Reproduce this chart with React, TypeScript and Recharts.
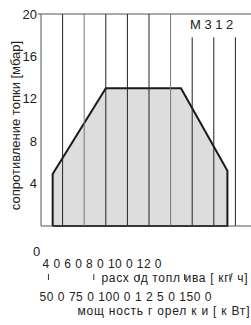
import { ComposedChart, Area, Scatter, XAxis, YAxis, ReferenceLine } from 'recharts';

// outline of the working field (x: position on the grid, y: resistance in mbar)
const fieldX = [0.54, 0.54, 3.0, 6.48, 8.63, 8.63, 0.54];
const fieldY = [0, 4.9, 13, 13, 5.2, 0, 0];

// vertical division lines and where they end at the top
const divisionX = [1, 2, 3, 4, 5, 6, 7, 8, 9];
const divisionTop = [20, 20, 20, 20, 20, 20, 17.8, 17.8, 17.8];

const yTicks = [4, 8, 12, 16, 20];
const powerTicks = [50, 75, 100, 125, 150];

const yTitle = 'сопротивление топки [мбар]';
const modelLabel = 'M 3 1 2';
const fuelZero = '0';
const fuelLabels = '4 0 6 0 8 0 10 0 12 0';
const fuelTitle = 'расх од топл ива [ кг/ ч]';
const powerLabels = '50 0 75 0 100 0 1 2 5 0 150 0';
const powerTitle = 'мощ ность г орел к и [ к Вт]';

const data = fieldX.map((x, i) => ({ x, y: fieldY[i] }));
const powerData = powerTicks.map((kw) => ({ kw, y: 0 }));

const FONT = '"Liberation Sans", Arial, sans-serif';
const TEXT = '#222';
const AXIS = '#555';

export default function App() {
  return (
    <div style={{ position: 'absolute', left: 0, top: 0, width: 251, height: 325, overflow: 'hidden', background: '#fff' }}>
      <ComposedChart width={257} height={325} data={data} margin={{ top: 14, right: 0, left: 0, bottom: 0 }}>
        <XAxis
          type="number"
          dataKey="x"
          domain={[0, 10]}
          tick={false}
          tickLine={false}
          axisLine={{ stroke: AXIS }}
          height={48}
        />
        <XAxis
          xAxisId="power"
          type="number"
          dataKey="kw"
          domain={[45.9, 164.9]}
          ticks={powerTicks}
          allowDataOverflow
          axisLine={false}
          tickLine={{ stroke: '#333' }}
          tickSize={6}
          tickFormatter={() => ''}
          height={51}
        />
        <YAxis
          type="number"
          domain={[0, 20]}
          ticks={yTicks}
          width={41}
          tickLine={false}
          tickSize={2}
          tickMargin={2}
          axisLine={{ stroke: AXIS }}
          tick={{ fill: TEXT, fontSize: 13, fontFamily: FONT }}
        />
        <Area
          type="linear"
          dataKey="y"
          stroke="#1a1a1a"
          strokeWidth={2}
          fill="#dddddd"
          fillOpacity={1}
          dot={false}
          activeDot={false}
          isAnimationActive={false}
        />
        {/* carries the power scale only, draws nothing */}
        <Scatter xAxisId="power" data={powerData} dataKey="y" shape={() => <g />} isAnimationActive={false} />
        <ReferenceLine
          ifOverflow="visible"
          segment={[{ x: -0.15, y: 20 }, { x: 10, y: 20 }]}
          stroke={AXIS}
        />
        {divisionX.map((x, i) => (
          <ReferenceLine
            key={x}
            segment={[{ x, y: 0 }, { x, y: divisionTop[i] }]}
            stroke={x % 4 === 2 ? '#777' : '#222'}
            strokeWidth={1}
          />
        ))}
      </ComposedChart>

      {/* titles and the odd bottom labels */}
      <svg width={251} height={325} style={{ position: 'absolute', left: 0, top: 0, pointerEvents: 'none' }}>
        <g fontFamily={FONT} fontSize={13} fill={TEXT}>
          <text x={19.5} y={125.5} textAnchor="middle" transform="rotate(-90 19.5 125.5)">{yTitle}</text>
          <text x={190} y={29}>{modelLabel}</text>
          <text x={33} y={256}>{fuelZero}</text>
        </g>
        <g fontFamily={FONT} fontSize={12} fill={TEXT}>
          <text x={42.5} y={268} textLength={119} lengthAdjust="spacing">{fuelLabels}</text>
          <text x={101.5} y={282} textLength={146} lengthAdjust="spacing">{fuelTitle}</text>
          <text x={39.5} y={300.5} textLength={172} lengthAdjust="spacing">{powerLabels}</text>
          <text x={77.5} y={314.5} textLength={172} lengthAdjust="spacing">{powerTitle}</text>
        </g>
      </svg>
    </div>
  );
}
